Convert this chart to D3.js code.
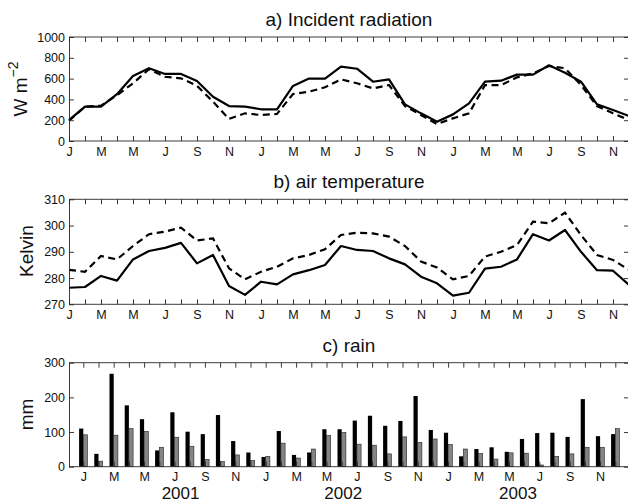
<!DOCTYPE html>
<html>
<head>
<meta charset="utf-8">
<script src="https://cdn.jsdelivr.net/npm/d3@7"></script>
<style>
  body { margin: 0; background: #fff; }
  svg { display: block; font-family: 'Liberation Sans', Arial, sans-serif; }
  .axis .domain, .axis .tick line { stroke: #262626; stroke-width: 0.9; }
  .axis .tick text { font-size: 12.5px; fill: #111; }
  .title, .ylabel { font-size: 19px; fill: #111; }
  .year { font-size: 17px; fill: #111; }
</style>
</head>
<body>
<div id="chart"></div>
<script>
// monthly series, Jan 2001 .. Dec 2003
const monthLetters = ['J','F','M','A','M','J','J','A','S','O','N','D']
const years = ['2001', '2002', '2003']

const radSolid = [200,330,330,450,625,700,645,645,577,426,336,330,
                  305,305,530,600,600,715,695,570,593,352,266,186,
                  256,362,570,580,638,638,728,657,570,352,298,240]
const radDashed = [195,330,340,440,555,690,618,603,530,378,212,266,
                   250,260,452,474,516,593,555,506,538,336,250,163,
                   218,266,538,538,612,650,721,700,538,336,266,202]

const tempSolid = [276.3,276.6,280.8,279.0,287.1,290.3,291.5,293.4,285.6,288.8,277.0,273.6,
                   278.6,277.6,281.4,283.0,285.0,292.2,290.7,290.3,287.5,285.2,280.5,278.0,
                   273.3,274.4,283.6,284.3,287.1,296.7,294.3,298.3,290.0,283.0,282.8,277.4]
const tempDashed = [283.1,282.4,288.4,287.1,292.2,296.7,297.7,299.2,294.3,295.1,283.7,279.5,
                    282.4,284.3,287.5,288.8,291.0,296.4,297.3,297.0,295.8,292.2,286.3,284.0,
                    279.5,280.8,288.2,290.0,292.6,301.5,300.9,304.9,296.4,288.8,286.9,283.1]

const rainBlack = [110,37,268,177,137,47,157,101,94,149,74,41,
                   28,103,34,41,108,108,133,147,118,132,204,106,
                   98,30,51,56,43,80,97,98,86,195,88,94]
const rainGrey = [92,16,91,110,102,56,85,59,21,15,34,18,
                  30,68,25,51,90,99,65,62,37,86,70,80,
                  64,51,38,22,40,39,5,30,37,56,56,110]

const radTicks = [0, 200, 400, 600, 800, 1000]
const tempTicks = [270, 280, 290, 300, 310]
const rainTicks = [0, 100, 200, 300]

const config = {
  width: 628, height: 503,
  left: 69, right: 629,
  tick: 5,
  yearLabelAt: [6.4, 17.1, 28.6]
}

const months = d3.range(36)
const monthLabel = i => i % 2 === 0 ? monthLetters[i % 12] : ''

const svg = d3.select('#chart')
  .append('svg')
    .attr('width', config.width)
    .attr('height', config.height)

// line panels share this x scale, the bar panel is offset by half a slot
const xLine = d3.scaleLinear().domain([0, 35]).range([config.left, config.right])
const xBar = d3.scaleLinear().domain([0, 35]).range([83.3, 615.3])

function frame(g, x, y, yTicks, top, bottom, pad = 6) {
  g.append('g').attr('class', 'axis')
    .attr('transform', `translate(0, ${bottom})`)
    .call(d3.axisBottom(x).tickValues(months).tickFormat(monthLabel)
      .tickSize(-config.tick).tickSizeOuter(0).tickPadding(pad))
    .call(a => a.select('.domain').attr('d', `M${config.left},0H${config.right}`))
  g.append('g').attr('class', 'axis')
    .attr('transform', `translate(0, ${top})`)
    .call(d3.axisTop(x).tickValues(months).tickFormat('')
      .tickSize(-config.tick).tickSizeOuter(0))
    .call(a => a.select('.domain').attr('d', `M${config.left},0H${config.right}`))
  g.append('g').attr('class', 'axis')
    .attr('transform', `translate(${config.left}, 0)`)
    .call(d3.axisLeft(y).tickValues(yTicks).tickFormat(d3.format('d'))
      .tickSize(-config.tick).tickSizeOuter(0).tickPadding(4))
  g.append('g').attr('class', 'axis')
    .attr('transform', `translate(${config.right}, 0)`)
    .call(d3.axisRight(y).tickValues(yTicks).tickFormat('')
      .tickSize(-config.tick).tickSizeOuter(0))
}

function title(g, text, baseline) {
  g.append('text').attr('class', 'title')
    .attr('x', (config.left + config.right) / 2)
    .attr('y', baseline)
    .attr('text-anchor', 'middle')
    .text(text)
}

function ylabel(g, baselineX, centreY) {
  return g.append('text').attr('class', 'ylabel')
    .attr('transform', `translate(${baselineX}, ${centreY}) rotate(-90)`)
    .attr('text-anchor', 'middle')
}

function linePanel(y, solid, dashed) {
  const line = d3.line().x((d, i) => xLine(i)).y(d => y(d))
  const g = svg.append('g')
  g.append('path').datum(solid)
    .attr('d', line).attr('fill', 'none')
    .attr('stroke', '#000').attr('stroke-width', 2.2)
    .attr('stroke-linejoin', 'round')
  g.append('path').datum(dashed)
    .attr('d', line).attr('fill', 'none')
    .attr('stroke', '#000').attr('stroke-width', 2.2)
    .attr('stroke-dasharray', '7,4.5')
  return g
}

// a) Incident radiation
const yRad = d3.scaleLinear().domain([0, 1000]).range([141, 37])
const gA = linePanel(yRad, radSolid, radDashed)
frame(gA, xLine, yRad, radTicks, 37, 141)
title(gA, 'a) Incident radiation', 25.5)
ylabel(gA, 26.5, 89)
  .call(t => t.append('tspan').text('W m'))
  .call(t => t.append('tspan').attr('font-size', '14px').attr('dy', '-0.6em').text('\u22122'))

// b) air temperature
const yTemp = d3.scaleLinear().domain([270, 310]).range([304.3, 199.3])
const gB = linePanel(yTemp, tempSolid, tempDashed)
frame(gB, xLine, yTemp, tempTicks, 199.3, 304.3)
title(gB, 'b) air temperature', 188)
ylabel(gB, 33, 251).text('Kelvin')

// c) rain
const yRain = d3.scaleLinear().domain([0, 300]).range([466.7, 362.7])
const bw = 4.2
const gC = svg.append('g')
gC.append('g')
  .selectAll('rect')
  .data(rainBlack)
  .join('rect')
    .attr('x', (d, i) => xBar(i) - bw)
    .attr('y', d => yRain(d))
    .attr('width', bw)
    .attr('height', d => yRain(0) - yRain(d))
    .attr('fill', '#000')
gC.append('g')
  .selectAll('rect')
  .data(rainGrey)
  .join('rect')
    .attr('x', (d, i) => xBar(i))
    .attr('y', d => yRain(d))
    .attr('width', bw)
    .attr('height', d => yRain(0) - yRain(d))
    .attr('fill', '#858585')
    .attr('stroke', '#222')
    .attr('stroke-width', 0.6)
frame(gC, xBar, yRain, rainTicks, 362.7, 466.7, 5)
title(gC, 'c) rain', 351.5)
ylabel(gC, 33, 414.5).text('mm')

gC.append('g')
  .selectAll('text')
  .data(years)
  .join('text')
    .attr('class', 'year')
    .attr('x', (d, i) => xBar(config.yearLabelAt[i]))
    .attr('y', 499)
    .attr('text-anchor', 'middle')
    .text(d => d)
</script>
</body>
</html>
